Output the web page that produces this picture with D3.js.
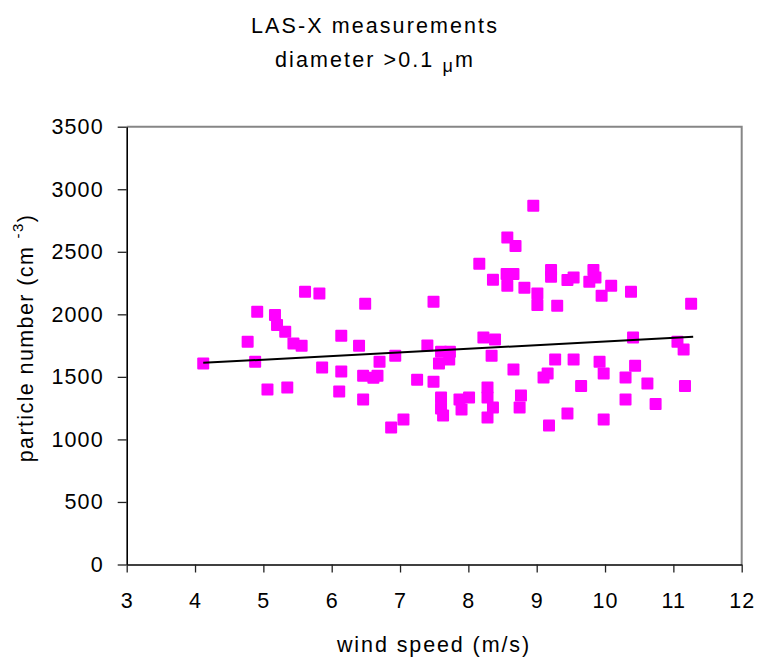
<!DOCTYPE html>
<html>
<head>
<meta charset="utf-8">
<script src="https://cdn.jsdelivr.net/npm/d3@7"></script>
<style>
  html, body { margin: 0; padding: 0; background: #fff; }
  svg { display: block; }
  text { font-family: "Liberation Sans", Arial, sans-serif; fill: #000; }
</style>
</head>
<body>
<svg id="chart" width="757" height="658"></svg>
<script>
// ---- data ----
const windSpeed = [4.12, 4.77, 4.88, 4.91, 5.06, 5.17, 5.20, 5.32, 5.35, 5.44, 5.56, 5.61, 5.82, 5.86,
  6.11, 6.14, 6.14, 6.40, 6.46, 6.46, 6.49, 6.61, 6.67, 6.70, 6.87, 6.93, 7.05, 7.25, 7.40, 7.49,
  7.49, 7.57, 7.60, 7.60, 7.60, 7.63, 7.72, 7.73, 7.87, 7.90, 8.01, 8.16, 8.22, 8.28, 8.28, 8.28,
  8.34, 8.36, 8.36, 8.39, 8.56, 8.57, 8.57, 8.66, 8.66, 8.69, 8.75, 8.77, 8.82, 8.95, 9.01, 9.01,
  9.10, 9.16, 9.18, 9.21, 9.21, 9.27, 9.30, 9.45, 9.45, 9.54, 9.54, 9.65, 9.77, 9.83, 9.86, 9.92,
  9.95, 9.98, 9.98, 10.09, 10.30, 10.30, 10.38, 10.41, 10.44, 10.62, 10.74, 11.06, 11.15, 11.17, 11.26];
const particleNumber = [1607, 1780, 1620, 2020, 1399, 1994, 1914, 1860, 1415, 1767, 1748, 2180, 2167, 1575,
  1383, 1828, 1543, 1748, 1319, 1508, 2084, 1492, 1508, 1620, 1095, 1668, 1159, 1476, 1751, 1460,
  2100, 1607, 1700, 1335, 1247, 1191, 1639, 1700, 1319, 1239, 1335, 2404, 1815, 1415, 1335, 1175,
  1668, 2276, 1255, 1799, 2322, 2615, 2228, 2322, 1559, 2546, 1255, 1351, 2212, 2868, 2167, 2074,
  1495, 1527, 1111, 2354, 2300, 1639, 2068, 2274, 1207, 2295, 1639, 1428, 2260, 2354, 2295, 1620,
  2148, 1527, 1159, 2228, 1495, 1319, 2180, 1815, 1588, 1447, 1284, 1780, 1719, 1428, 2084];
const trendX = [4.12, 11.29];
const trendY = [1612, 1820];
const xTicks = [3, 4, 5, 6, 7, 8, 9, 10, 11, 12];
const yTicks = [0, 500, 1000, 1500, 2000, 2500, 3000, 3500];
const titleLine1 = "LAS-X measurements";
const titleLine2 = "diameter >0.1 ";
const xTitle = "wind speed (m/s)";

// ---- layout ----
const svg = d3.select("#chart");
const L = 126.7, R = 741.7, T = 126.7, B = 564.5;
const x = d3.scaleLinear().domain([3, 12]).range([L, R]);
const y = d3.scaleLinear().domain([0, 3500]).range([B, T]);

// title
svg.append("text").attr("x", 375).attr("y", 33).attr("text-anchor", "middle")
  .style("font-size", "21.5px").style("letter-spacing", "2.1px").text(titleLine1);
const t2 = svg.append("text").attr("x", 375).attr("y", 67).attr("text-anchor", "middle")
  .style("font-size", "21.5px").style("letter-spacing", "2.1px");
t2.append("tspan").text(titleLine2);
t2.append("tspan").attr("dy", 5).style("font-size", "18px").text("μ");
t2.append("tspan").attr("dy", -5).text("m");

// top/right frame (gray)
svg.append("path")
  .attr("d", `M${L},${T}H${R}V${B}`)
  .attr("fill", "none").attr("stroke", "#868686").attr("stroke-width", 2);

// axes
const yAxis = d3.axisLeft(y).tickValues(yTicks).tickSize(9).tickSizeOuter(0).tickPadding(14)
  .tickFormat(d3.format("d"));
const xAxis = d3.axisBottom(x).tickValues(xTicks).tickSize(8).tickSizeOuter(0).tickPadding(20)
  .tickFormat(d3.format("d"));

const gy = svg.append("g").attr("transform", `translate(${L},0)`).call(yAxis);
const gx = svg.append("g").attr("transform", `translate(0,${B})`).call(xAxis);
[gx, gy].forEach(g => {
  g.select(".domain").attr("stroke", "#000").attr("stroke-width", 1.6);
  g.selectAll(".tick line").attr("stroke", "#222").attr("stroke-width", 1.3);
  g.selectAll(".tick text").style("font-size", "21.5px").style("letter-spacing", "1.1px")
    .style("font-family", '"Liberation Sans", Arial, sans-serif').attr("fill", "#000");
});

// axis titles
svg.append("text").attr("x", 434).attr("y", 652).attr("text-anchor", "middle")
  .style("font-size", "21.5px").style("letter-spacing", "1.9px").text(xTitle);

const yt = svg.append("text").attr("transform", "translate(33,338) rotate(-90)")
  .attr("text-anchor", "middle").style("font-size", "21.5px").style("letter-spacing", "1.4px");
yt.append("tspan").text("particle number (cm  ");
yt.append("tspan").attr("dy", -10).style("font-size", "15px").text("-3");
yt.append("tspan").attr("dy", 10).text(")");

// points
const pts = windSpeed.map((w, i) => ({ w, p: particleNumber[i] }));
const s = 12;
svg.append("g").selectAll("rect").data(pts).join("rect")
  .attr("x", d => x(d.w) - s / 2)
  .attr("y", d => y(d.p) - s / 2)
  .attr("width", s).attr("height", s).attr("rx", 1)
  .attr("fill", "#ff00ff");

// trend line
svg.append("line")
  .attr("x1", x(trendX[0])).attr("y1", y(trendY[0]))
  .attr("x2", x(trendX[1])).attr("y2", y(trendY[1]))
  .attr("stroke", "#000").attr("stroke-width", 2);
</script>
</body>
</html>
